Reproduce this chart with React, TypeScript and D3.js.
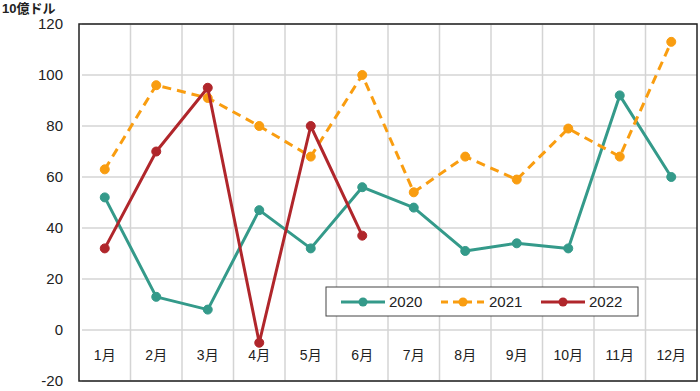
import React from 'react';
import * as d3 from 'd3';

const months = ['1月', '2月', '3月', '4月', '5月', '6月', '7月', '8月', '9月', '10月', '11月', '12月'];
const v2020 = [52, 13, 8, 47, 32, 56, 48, 31, 34, 32, 92, 60];
const v2021 = [63, 96, 91, 80, 68, 100, 54, 68, 59, 79, 68, 113];
const v2022 = [32, 70, 95, -5, 80, 37];
const yTicks = [-20, 0, 20, 40, 60, 80, 100, 120];

const series = [
  { name: '2020', values: v2020, color: '#349a8a', dash: '' },
  { name: '2021', values: v2021, color: '#f99d10', dash: '9,6' },
  { name: '2022', values: v2022, color: '#b0262b', dash: '' },
];

const W = 700;
const H = 391;
const left = 79;
const right = 697;
const top = 24;
const bottom = 381;
const font = '"Liberation Sans", "Noto Sans CJK JP", sans-serif';

export default function App() {
  const x = d3.scaleBand<string>().domain(months).range([left, right]).padding(0);
  const y = d3.scaleLinear().domain([-20, 120]).range([bottom, top]);
  const cx = (i: number) => (x(months[i]) ?? 0) + x.bandwidth() / 2;

  const line = d3.line<number>()
    .x((_, i) => cx(i))
    .y(d => y(d));

  const legendItems = [
    { s: series[0], x0: 341 },
    { s: series[1], x0: 441 },
    { s: series[2], x0: 541 },
  ];

  return (
    <svg width={W} height={H} style={{ position: 'absolute', left: 0, top: 0, background: '#fff' }} fontFamily={font}>
      {/* grid */}
      {yTicks.map(t => (
        <line key={'h' + t} x1={left + 3} x2={right} y1={y(t)} y2={y(t)} stroke="#d4d4d4" strokeWidth={1.5} />
      ))}
      {months.slice(1).map(m => (
        <line key={'v' + m} x1={x(m)} x2={x(m)} y1={top} y2={bottom} stroke="#d4d4d4" strokeWidth={1.5} />
      ))}
      <rect x={left} y={top} width={right - left} height={bottom - top} fill="none" stroke="#222" strokeWidth={1.5} />

      {/* y ticks */}
      {yTicks.map(t => (
        <text key={'yt' + t} x={63} y={y(t)} dy="0.35em" textAnchor="end" fontSize={15} fill="#222">{t}</text>
      ))}
      <text x={2} y={13} fontSize={13} fontWeight="bold" fill="#222">10億ドル</text>

      {/* x labels */}
      {months.map((m, i) => (
        <text key={'xl' + m} x={cx(i)} y={y(0) + 25} dy="0.35em" textAnchor="middle" fontSize={14} fill="#222">{m}</text>
      ))}

      {/* series */}
      {series.map(s => (
        <g key={s.name}>
          <path d={line(s.values) ?? ''} fill="none" stroke={s.color} strokeWidth={3} strokeDasharray={s.dash} strokeLinejoin="round" />
          {s.values.map((v, i) => (
            <circle key={i} cx={cx(i)} cy={y(v)} r={4.5} fill={s.color} stroke={s.color} strokeWidth={1} />
          ))}
        </g>
      ))}

      {/* legend */}
      <rect x={326} y={287} width={312} height={29} fill="#fff" stroke="#444" strokeWidth={1} />
      {legendItems.map(({ s, x0 }) => (
        <g key={'lg' + s.name}>
          <line x1={x0} x2={x0 + 44} y1={302} y2={302} stroke={s.color} strokeWidth={3} strokeDasharray={s.dash ? '7,5' : ''} />
          <circle cx={x0 + 22} cy={302} r={4.5} fill={s.color} />
          <text x={x0 + 48} y={302} dy="0.35em" fontSize={15} fill="#222">{s.name}</text>
        </g>
      ))}
    </svg>
  );
}
